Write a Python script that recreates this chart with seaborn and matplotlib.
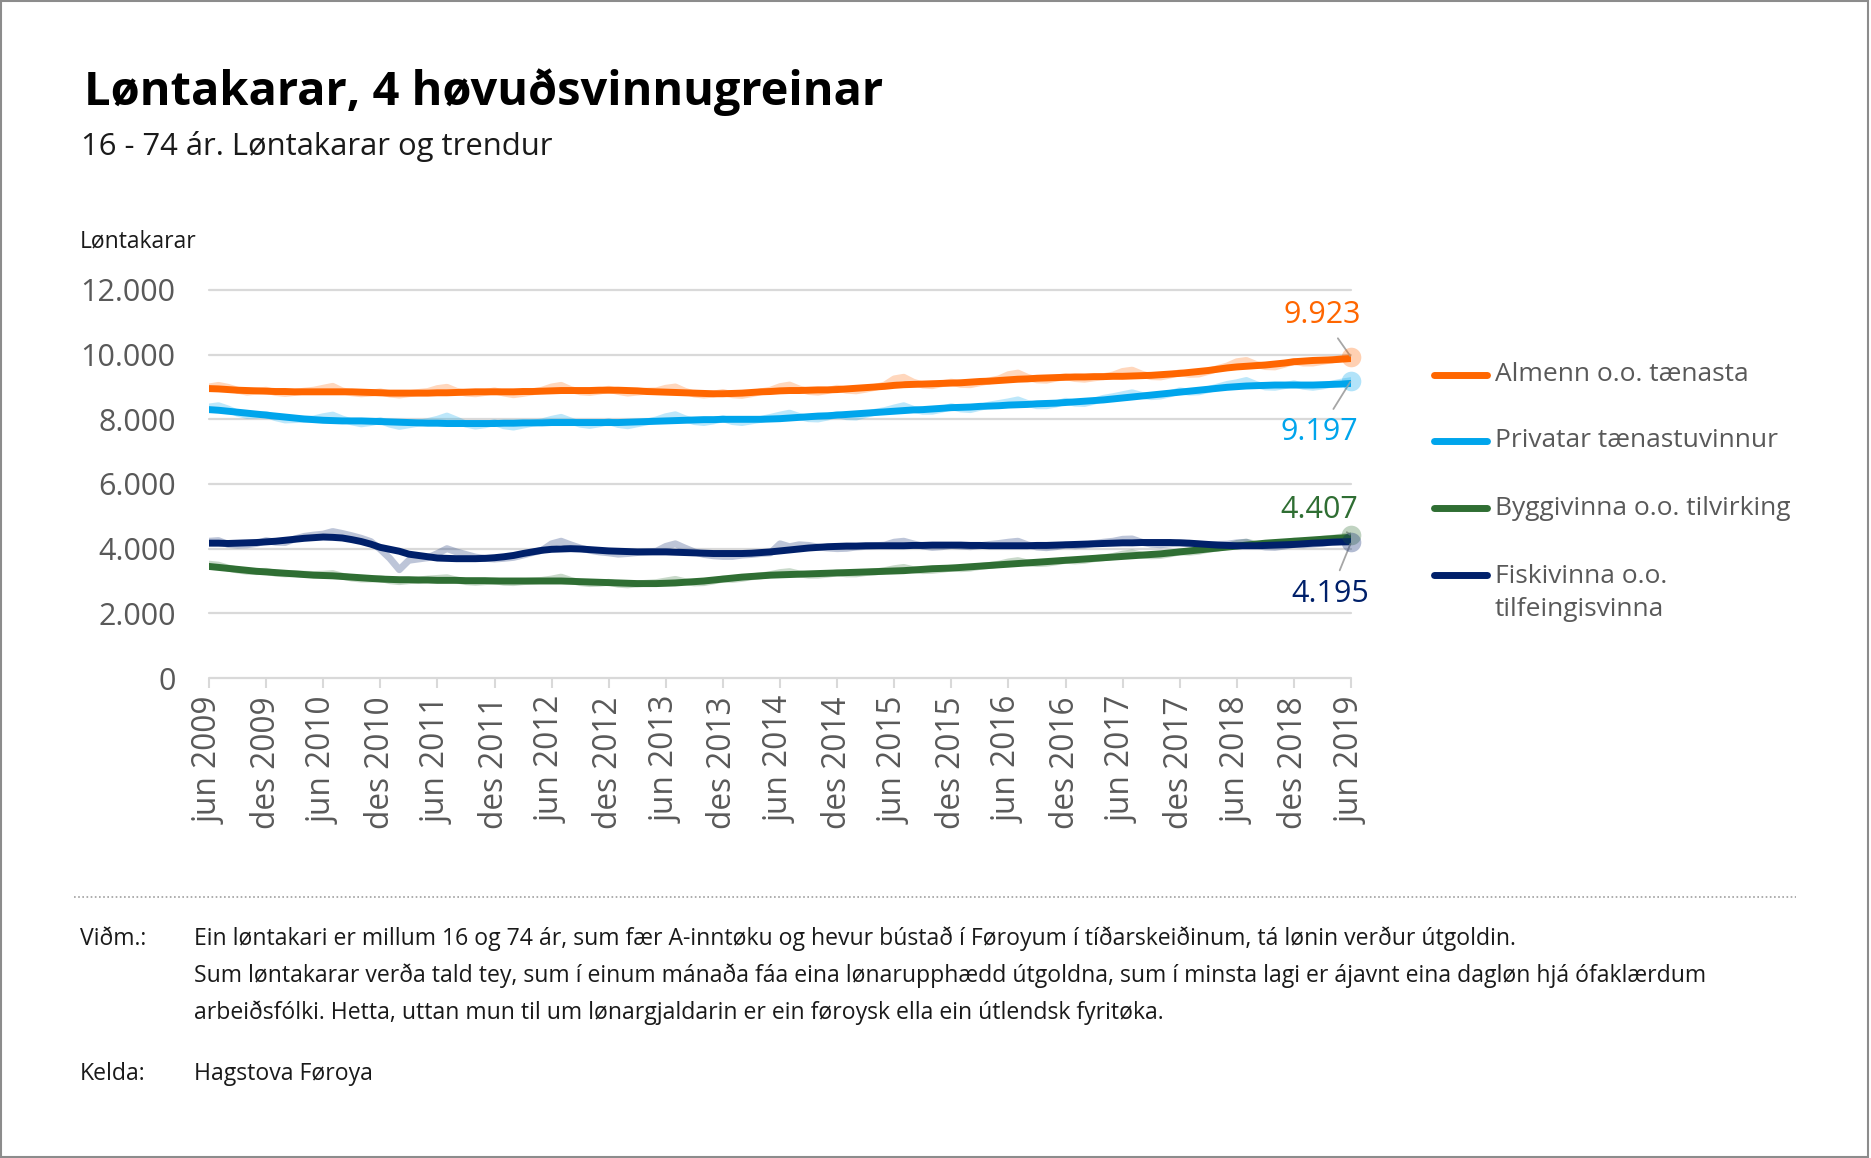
import pandas as pd
import matplotlib.pyplot as plt
import seaborn as sns
from matplotlib.lines import Line2D
from matplotlib.patches import Rectangle
from matplotlib.ticker import FuncFormatter

# Monthly values, jun 2009 .. jun 2019 (121 months)
tick_labels = ['jun 2009', 'des 2009', 'jun 2010', 'des 2010', 'jun 2011', 'des 2011',
               'jun 2012', 'des 2012', 'jun 2013', 'des 2013', 'jun 2014', 'des 2014',
               'jun 2015', 'des 2015', 'jun 2016', 'des 2016', 'jun 2017', 'des 2017',
               'jun 2018', 'des 2018', 'jun 2019']

series_names = ['Almenn o.o. tænasta', 'Privatar tænastuvinnur',
                'Byggivinna o.o. tilvirking', 'Fiskivinna o.o. tilfeingisvinna']

almenn_trend = [8950, 8940, 8920, 8900, 8890, 8880, 8870, 8860, 8860, 8850, 8850, 8850,
                8850, 8850, 8850, 8850, 8840, 8830, 8820, 8810, 8810, 8810, 8810, 8810,
                8820, 8820, 8830, 8840, 8850, 8850, 8850, 8850, 8850, 8860, 8860, 8870,
                8880, 8890, 8890, 8890, 8890, 8900, 8900, 8900, 8890, 8880, 8860, 8850,
                8840, 8830, 8820, 8810, 8800, 8790, 8790, 8800, 8810, 8830, 8850, 8860,
                8880, 8890, 8890, 8900, 8910, 8910, 8920, 8940, 8960, 8980, 9000, 9020,
                9050, 9070, 9080, 9090, 9100, 9110, 9120, 9130, 9150, 9170, 9180, 9200,
                9220, 9240, 9250, 9270, 9280, 9290, 9300, 9310, 9310, 9320, 9320, 9330,
                9330, 9340, 9350, 9360, 9380, 9400, 9420, 9450, 9480, 9510, 9550, 9590,
                9620, 9640, 9660, 9680, 9710, 9740, 9780, 9800, 9820, 9830, 9840, 9860,
                9880]
almenn_raw = [9000, 9050, 8990, 8900, 8840, 8870, 8900, 8830, 8800, 8830, 8870, 8900,
              8960, 9020, 8880, 8820, 8790, 8810, 8850, 8780, 8750, 8790, 8830, 8860,
              8950, 8990, 8870, 8810, 8790, 8830, 8880, 8810, 8760, 8800, 8850, 8900,
              9000, 9050, 8920, 8850, 8830, 8870, 8930, 8860, 8810, 8840, 8870, 8880,
              8960, 9000, 8870, 8780, 8750, 8780, 8830, 8760, 8740, 8790, 8850, 8900,
              9010, 9060, 8940, 8860, 8840, 8890, 8960, 8900, 8880, 8930, 8990, 9060,
              9250, 9300, 9150, 9060, 9040, 9100, 9150, 9080, 9070, 9130, 9190, 9250,
              9380, 9430, 9300, 9220, 9210, 9270, 9320, 9260, 9240, 9280, 9320, 9370,
              9480, 9520, 9400, 9320, 9310, 9370, 9440, 9390, 9400, 9480, 9570, 9650,
              9780, 9820, 9700, 9630, 9620, 9700, 9790, 9740, 9740, 9790, 9840, 9880,
              9923]

privat_trend = [8300, 8280, 8250, 8220, 8190, 8160, 8130, 8100, 8070, 8040, 8010, 7990,
                7970, 7960, 7950, 7950, 7950, 7940, 7930, 7920, 7910, 7900, 7890, 7880,
                7880, 7870, 7870, 7870, 7870, 7870, 7870, 7880, 7880, 7890, 7890, 7890,
                7900, 7900, 7900, 7900, 7900, 7900, 7900, 7900, 7910, 7920, 7930, 7940,
                7950, 7960, 7970, 7980, 7990, 7990, 8000, 8000, 8000, 8000, 8000, 8010,
                8020, 8040, 8060, 8080, 8100, 8110, 8130, 8150, 8170, 8190, 8210, 8230,
                8250, 8270, 8290, 8300, 8320, 8340, 8360, 8370, 8380, 8400, 8410, 8420,
                8440, 8450, 8460, 8480, 8490, 8500, 8520, 8540, 8560, 8580, 8600, 8630,
                8660, 8690, 8720, 8750, 8780, 8810, 8840, 8870, 8900, 8930, 8960, 8990,
                9010, 9030, 9040, 9050, 9060, 9060, 9060, 9060, 9060, 9070, 9080, 9090,
                9110]
privat_raw = [8380, 8420, 8320, 8190, 8120, 8130, 8150, 8050, 7980, 7990, 8000, 8010,
              8080, 8130, 8010, 7920, 7860, 7900, 7960, 7850, 7780, 7830, 7880, 7930,
              8000, 8100, 7980, 7850, 7790, 7830, 7900, 7800, 7760, 7820, 7880, 7920,
              8000, 8060, 7950, 7850, 7810, 7860, 7930, 7840, 7800, 7860, 7920, 7980,
              8080, 8140, 8020, 7930, 7900, 7950, 8020, 7930, 7900, 7950, 8000, 8060,
              8130, 8190, 8090, 8020, 8010, 8070, 8150, 8080, 8070, 8150, 8220, 8270,
              8350, 8420, 8310, 8250, 8250, 8310, 8390, 8320, 8300, 8370, 8440, 8490,
              8540, 8600, 8490, 8420, 8420, 8470, 8560, 8500, 8490, 8560, 8650, 8700,
              8760, 8820, 8740, 8700, 8720, 8790, 8880, 8840, 8850, 8920, 9000, 9080,
              9130, 9200, 9080, 9000, 8990, 9040, 9100, 9020, 8990, 9030, 9090, 9150,
              9197]

bygg_trend = [3450, 3420, 3390, 3360, 3330, 3300, 3280, 3260, 3240, 3220, 3200, 3180,
              3170, 3160, 3140, 3120, 3100, 3080, 3060, 3050, 3040, 3040, 3030, 3030,
              3020, 3020, 3020, 3010, 3010, 3010, 3000, 3000, 3000, 3000, 3000, 3000,
              3000, 3000, 2990, 2980, 2970, 2960, 2950, 2940, 2930, 2920, 2920, 2920,
              2930, 2940, 2960, 2980, 3000, 3030, 3060, 3090, 3120, 3140, 3160, 3180,
              3190, 3200, 3210, 3220, 3230, 3240, 3250, 3260, 3270, 3280, 3290, 3300,
              3310, 3320, 3340, 3360, 3380, 3390, 3400, 3420, 3440, 3460, 3480, 3500,
              3520, 3540, 3560, 3580, 3600, 3620, 3640, 3660, 3680, 3700, 3720, 3740,
              3760, 3780, 3800, 3820, 3840, 3870, 3900, 3930, 3960, 3990, 4020, 4050,
              4080, 4110, 4140, 4170, 4190, 4210, 4230, 4250, 4270, 4290, 4310, 4330,
              4350]
bygg_raw = [3520, 3490, 3400, 3340, 3300, 3290, 3300, 3240, 3220, 3230, 3210, 3200,
            3210, 3230, 3150, 3090, 3060, 3060, 3080, 3010, 2980, 3010, 3030, 3060,
            3080, 3100, 3030, 2980, 2960, 2980, 3010, 2960, 2950, 2980, 3000, 3020,
            3060, 3120, 3020, 2950, 2920, 2930, 2960, 2900, 2880, 2910, 2930, 2950,
            3000, 3050, 2980, 2940, 2950, 3000, 3060, 3050, 3080, 3130, 3160, 3200,
            3260, 3290, 3220, 3180, 3180, 3210, 3250, 3220, 3220, 3260, 3280, 3320,
            3380, 3420, 3350, 3320, 3330, 3360, 3400, 3380, 3400, 3450, 3480, 3520,
            3590, 3630, 3560, 3540, 3550, 3590, 3640, 3620, 3640, 3690, 3720, 3760,
            3830, 3870, 3800, 3780, 3790, 3840, 3900, 3890, 3920, 3980, 4020, 4070,
            4160, 4200, 4140, 4120, 4140, 4180, 4230, 4220, 4240, 4290, 4320, 4360,
            4407]

fisk_trend = [4170, 4170, 4160, 4170, 4180, 4190, 4210, 4230, 4260, 4290, 4320, 4340,
              4360, 4350, 4330, 4280, 4220, 4140, 4040, 3980, 3920, 3830, 3790, 3750,
              3710, 3700, 3690, 3690, 3690, 3700, 3720, 3750, 3790, 3850, 3900, 3950,
              3980, 3990, 4000, 3990, 3970, 3950, 3930, 3920, 3910, 3900, 3900, 3900,
              3900, 3890, 3880, 3870, 3860, 3850, 3850, 3850, 3850, 3860, 3880, 3900,
              3930, 3960, 3990, 4020, 4040, 4060, 4070, 4080, 4080, 4090, 4090, 4090,
              4090, 4090, 4100, 4100, 4110, 4110, 4110, 4110, 4100, 4100, 4090, 4090,
              4090, 4090, 4090, 4100, 4100, 4110, 4120, 4130, 4140, 4150, 4160, 4170,
              4180, 4180, 4190, 4190, 4190, 4190, 4180, 4170, 4150, 4130, 4110, 4100,
              4090, 4090, 4090, 4100, 4110, 4120, 4130, 4150, 4170, 4180, 4200, 4210,
              4220]
fisk_raw = [4230, 4250, 4130, 4110, 4120, 4160, 4250, 4200, 4190, 4300, 4380, 4420,
            4450, 4530, 4470, 4400, 4320, 4220, 3980, 3700, 3350, 3640, 3680, 3720,
            3850, 4000, 3900, 3820, 3740, 3700, 3680, 3700, 3730, 3800, 3880, 3950,
            4150, 4230, 4120, 4020, 3950, 3900, 3870, 3830, 3850, 3880, 3900, 3920,
            4070, 4150, 4020, 3900, 3820, 3780, 3760, 3760, 3800, 3820, 3850, 3870,
            4150, 4060, 4120, 4100, 4050, 4020, 4000, 4010, 4050, 4070, 4090, 4110,
            4200, 4230, 4150, 4080, 4040, 4060, 4100, 4080, 4060, 4090, 4130, 4160,
            4200, 4230, 4120, 4050, 4030, 4060, 4110, 4090, 4110, 4160, 4200, 4230,
            4290, 4300, 4200, 4140, 4120, 4150, 4190, 4150, 4110, 4120, 4130, 4140,
            4180, 4200, 4100, 4050, 4040, 4080, 4130, 4120, 4140, 4170, 4200, 4210,
            4195]

colors = ['#FF6600', '#00A5EC', '#2F6E33', '#00206A']
trends = [almenn_trend, privat_trend, bygg_trend, fisk_trend]
raws = [almenn_raw, privat_raw, bygg_raw, fisk_raw]

rows = []
for name, tr, rw in zip(series_names, trends, raws):
    for m, (t, r) in enumerate(zip(tr, rw)):
        rows.append({'month': m, 'series': name, 'trend': t, 'raw': r})
df = pd.DataFrame(rows)
palette = dict(zip(series_names, colors))

sns.set_theme(style='white')
plt.rcParams['font.family'] = ['Open Sans', 'DejaVu Sans']

fig = plt.figure(figsize=(18.71, 11.58), dpi=100)
ax = fig.add_axes([0.1117, 0.4145, 0.6104, 0.3351])

sns.lineplot(data=df, x='month', y='raw', hue='series', palette=palette,
             linewidth=5, alpha=0.26, estimator=None, legend=False, ax=ax)
sns.lineplot(data=df, x='month', y='trend', hue='series', palette=palette,
             linewidth=5, estimator=None, legend=False, ax=ax)

# end-point markers and value labels
last = df[df['month'] == df['month'].max()]
offsets = [(-21, 30), (-23, -37), (-23, 18), (-15, -37)]
for (name, col), off in zip(palette.items(), offsets):
    row = last[last['series'] == name].iloc[0]
    ax.scatter(row['month'], row['raw'], s=200, color=col, alpha=0.3,
               linewidths=0, clip_on=False, zorder=5)
    ax.annotate(f"{row['raw']:,}".replace(',', '.'), (row['month'], row['raw']),
                xytext=off, textcoords='offset points', ha='center', va='center',
                fontsize=22, color=col,
                arrowprops=dict(arrowstyle='-', color='#a6a6a6', lw=1.3,
                                shrinkA=4, shrinkB=1))

ax.set_xlim(0, 120)
ax.set_ylim(0, 12000)
ax.set_yticks(range(0, 12001, 2000))
ax.yaxis.set_major_formatter(FuncFormatter(lambda v, p: f'{int(v):,}'.replace(',', '.')))
ax.set_xticks(range(0, 121, 6))
ax.set_xticklabels(tick_labels, rotation=90)
ax.set_xlabel('')
ax.set_ylabel('')
for s in ax.spines.values():
    s.set_visible(False)
ax.grid(axis='y', color='#d9d9d9', linewidth=1.6)
ax.grid(axis='x', visible=False)
for gl in ax.yaxis.get_gridlines():
    gl.set_clip_on(False)
ax.tick_params(axis='y', length=0, pad=24, labelsize=22, labelcolor='#595959')
ax.tick_params(axis='x', bottom=True, length=7, width=1.5, color='#d9d9d9',
               pad=6, labelsize=22.8, labelcolor='#595959')

# titles
fig.text(0.0447, 0.9093, 'Løntakarar, 4 høvuðsvinnugreinar', fontsize=33.8,
         fontweight='bold', color='black', va='baseline')
fig.text(0.0433, 0.866, '16 - 74 ár. Løntakarar og trendur', fontsize=22.3,
         color='#1a1a1a', va='baseline')
fig.text(0.0428, 0.7867, 'Løntakarar', fontsize=16.5, color='#1a1a1a', va='baseline')

# legend
leg_y = [0.6762, 0.6192, 0.5613, 0.5035]
leg_labels = ['Almenn o.o. tænasta', 'Privatar tænastuvinnur',
              'Byggivinna o.o. tilvirking', 'Fiskivinna o.o.\ntilfeingisvinna']
for y, lab, col in zip(leg_y, leg_labels, colors):
    fig.add_artist(Line2D([0.7665, 0.7950], [y, y], color=col, lw=5,
                          solid_capstyle='round', transform=fig.transFigure))
    fig.text(0.799, y, lab, fontsize=19, color='#595959', va='top' if '\n' in lab else 'center',
             linespacing=1.45)
# shift multi-line label so its first line sits on the handle
fig.texts[-1].set_position((0.799, leg_y[-1] + 0.0095))

# footnote
fig.add_artist(Line2D([0.0396, 0.9600], [0.2254, 0.2254], color='#a0a0a0', lw=1.2,
                      linestyle=(0, (1, 1.5)), transform=fig.transFigure))
fig.text(0.0428, 0.184, 'Viðm.:', fontsize=16.6, color='#1a1a1a', va='baseline')
notes = ['Ein løntakari er millum 16 og 74 ár, sum fær A-inntøku og hevur bústað í Føroyum í tíðarskeiðinum, tá lønin verður útgoldin.',
         'Sum løntakarar verða tald tey, sum í einum mánaða fáa eina lønarupphædd útgoldna, sum í minsta lagi er ájavnt eina dagløn hjá ófaklærdum',
         'arbeiðsfólki. Hetta, uttan mun til um lønargjaldarin er ein føroysk ella ein útlendsk fyritøka.']
for i, line in enumerate(notes):
    fig.text(0.1037, 0.184 - i * 0.032, line, fontsize=16.6, color='#1a1a1a', va='baseline')
fig.text(0.0428, 0.0674, 'Kelda:', fontsize=16.6, color='#1a1a1a', va='baseline')
fig.text(0.1037, 0.0674, 'Hagstova Føroya', fontsize=16.6, color='#1a1a1a', va='baseline')

fig.add_artist(Rectangle((0.0005, 0.001), 0.998, 0.998, fill=False, edgecolor='#8c8c8c',
                         lw=1.5, transform=fig.transFigure))

plt.savefig('out.png', dpi=100)
